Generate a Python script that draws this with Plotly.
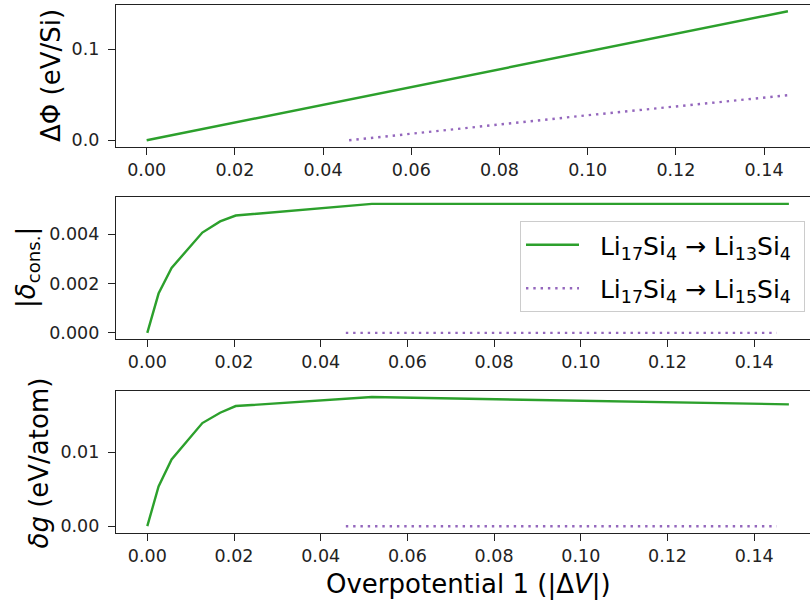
import plotly.graph_objects as go
from plotly.subplots import make_subplots

# ---------------- data ----------------
# top panel: ΔΦ (eV/Si)
x_phi_13 = [0.0, 0.04, 0.10, 0.1454]
phi_13 = [0.0, 0.039, 0.0978, 0.1418]
x_phi_15 = [0.0459, 0.10, 0.1454]
phi_15 = [0.0, 0.0275, 0.0495]

# middle / bottom panels
x_13 = [0.0, 0.0026, 0.0056, 0.0127, 0.0168, 0.0204, 0.0518, 0.148]
dcons_13 = [0.0, 0.00159, 0.00263, 0.00406, 0.00451, 0.00475, 0.00522, 0.00522]
dg_13 = [0.0, 0.00536, 0.00901, 0.01392, 0.01532, 0.01622, 0.01743, 0.01645]
x_15 = [0.0458, 0.1452]
dcons_15 = [0.0, 0.0]
dg_15 = [0.0, 0.0]

x_ticks = [0.00, 0.02, 0.04, 0.06, 0.08, 0.10, 0.12, 0.14]
x_ticklabels = ["0.00", "0.02", "0.04", "0.06", "0.08", "0.10", "0.12", "0.14"]

name_13 = "&nbsp;&nbsp;Li<sub>17</sub>Si<sub>4</sub> → Li<sub>13</sub>Si<sub>4</sub>&nbsp;"
name_15 = "&nbsp;&nbsp;Li<sub>17</sub>Si<sub>4</sub> → Li<sub>15</sub>Si<sub>4</sub>&nbsp;"

GREEN = "#2ca02c"
PURPLE = "#9467bd"
FONT = "DejaVu Sans"

# ---------------- layout geometry (px) ----------------
W, H = 810, 603
L, R, T, B = 116, 0, 5, 70
plot_h = H - T - B  # 528


def ydom(top_px, bot_px):
    return [(H - B - bot_px) / plot_h, (H - B - top_px) / plot_h]


fig = make_subplots(rows=3, cols=1, shared_xaxes=False)

solid = dict(color=GREEN, width=2.4)
dotted = dict(color=PURPLE, width=2.4, dash="2.4px,4.9px")

fig.add_trace(go.Scatter(x=x_phi_13, y=phi_13, mode="lines", line=solid,
                         showlegend=False, name=name_13), row=1, col=1)
fig.add_trace(go.Scatter(x=x_phi_15, y=phi_15, mode="lines", line=dotted,
                         showlegend=False, name=name_15), row=1, col=1)
fig.add_trace(go.Scatter(x=x_13, y=dcons_13, mode="lines", line=solid,
                         showlegend=True, name=name_13, legendgroup="a"), row=2, col=1)
fig.add_trace(go.Scatter(x=x_15, y=dcons_15, mode="lines", line=dotted,
                         showlegend=True, name=name_15, legendgroup="b"), row=2, col=1)
fig.add_trace(go.Scatter(x=x_13, y=dg_13, mode="lines", line=solid,
                         showlegend=False, name=name_13), row=3, col=1)
fig.add_trace(go.Scatter(x=x_15, y=dg_15, mode="lines", line=dotted,
                         showlegend=False, name=name_15), row=3, col=1)

axis_common = dict(showgrid=False, zeroline=False, showline=True,
                   linecolor="#222222", linewidth=1.3, ticks="outside",
                   ticklen=7, tickwidth=1.3, tickcolor="#222222",
                   tickfont=dict(family=FONT, size=17.5, color="#222222"))

x_ranges = [[-0.00696, 0.15041], [-0.00722, 0.15287], [-0.00722, 0.15287]]
y_doms = [ydom(5, 147), ydom(197, 339), ydom(391, 533)]
y_ranges = [[-0.0074, 0.1487], [-0.00025, 0.0055], [-0.00092, 0.01825]]
y_ticks = [[0.0, 0.1], [0.0, 0.002, 0.004], [0.0, 0.01]]
y_ticktext = [["0.0", "0.1"], ["0.000", "0.002", "0.004"], ["0.00", "0.01"]]

for i in range(3):
    xa = "xaxis" if i == 0 else f"xaxis{i+1}"
    ya = "yaxis" if i == 0 else f"yaxis{i+1}"
    fig.layout[xa].update(domain=[0, 1], range=x_ranges[i], mirror=True,
                          tickvals=x_ticks, ticktext=x_ticklabels,
                          **axis_common)
    fig.layout[ya].update(domain=y_doms[i], range=y_ranges[i], mirror=False,
                          tickvals=y_ticks[i], ticktext=y_ticktext[i],
                          ticklabelstandoff=5, **axis_common)


def px_x(px):
    return (px - L) / (W - L - R)


def px_y(py):
    return (H - B - py) / plot_h


label_font = dict(family=FONT, size=26, color="black")
annots = [
    dict(text="ΔΦ (eV/Si)", x=px_x(51), y=px_y(76), textangle=-90),
    dict(text="|<i>δ</i><sub>cons.</sub>|", x=px_x(27), y=px_y(268), textangle=-90),
    dict(text="<i>δg</i> (eV/atom)", x=px_x(38.5), y=px_y(463), textangle=-90),
    dict(text="Overpotential 1 (|Δ<i>V</i>|)", x=px_x(468), y=px_y(584), textangle=0),
]
for a in annots:
    fig.add_annotation(xref="paper", yref="paper", xanchor="center",
                       yanchor="middle", showarrow=False, font=label_font, **a)

fig.update_layout(
    width=W, height=H,
    margin=dict(l=L, r=R, t=T, b=B, autoexpand=False),
    paper_bgcolor="white", plot_bgcolor="white",
    font=dict(family=FONT, color="black"),
    legend=dict(x=px_x(520), y=px_y(221), xanchor="left", yanchor="top",
                bgcolor="rgba(255,255,255,0.8)", bordercolor="#cccccc",
                borderwidth=1, font=dict(family=FONT, size=25, color="black"),
                itemwidth=53, tracegroupgap=8),
)

fig.write_html("out.html", config={"displayModeBar": False},
               post_script="document.body.style.margin='0';document.body.style.padding='0';")
